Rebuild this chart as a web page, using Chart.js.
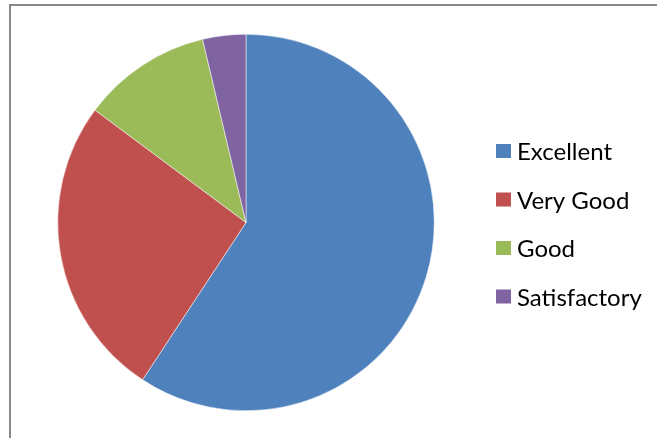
<html lang="en">
<head>
    <meta charset="UTF-8">
    <title>Ratings</title>
    <script src="https://cdn.jsdelivr.net/npm/chart.js"></script>
    <style>
        body { margin: 0; background: #fff; }
        #wrap { position: relative; width: 657px; height: 438px; }
        canvas { position: absolute; left: 0; top: 0; }
    </style>
</head>
<body>

    <div id="wrap">
        <canvas id="graficoPizza" width="657" height="438"></canvas>
    </div>

    <script>
        const categorias = ['Excellent', 'Very Good', 'Good', 'Satisfactory'];
        const respostas = [16, 7, 3, 1];
        const cores = ['#4F81BD', '#C0504D', '#9BBB59', '#8064A2'];

        // moldura cinza e legenda desenhadas a mao
        const molduraLegenda = {
            id: 'molduraLegenda',
            beforeDraw(chart) {
                const ctx = chart.ctx;
                ctx.save();
                ctx.strokeStyle = '#888888';
                ctx.lineWidth = 2;
                ctx.beginPath();
                ctx.moveTo(10, 440);
                ctx.lineTo(10, 5);
                ctx.lineTo(660, 5);
                ctx.stroke();
                ctx.restore();
            },
            afterDraw(chart) {
                const ctx = chart.ctx;
                const ds = chart.data.datasets[0];
                ctx.save();
                ctx.font = '24px Lato, "Open Sans", sans-serif';
                ctx.textBaseline = 'alphabetic';
                chart.data.labels.forEach((nome, i) => {
                    const y = 151 + i * 48.5;
                    ctx.fillStyle = ds.backgroundColor[i];
                    ctx.fillRect(496, y - 7, 15, 14);
                    ctx.fillStyle = '#000';
                    ctx.fillText(nome, 517, y + 9);
                });
                ctx.restore();
            }
        };

        const ctx = document.getElementById('graficoPizza').getContext('2d');
        const grafico = new Chart(ctx, {
            type: 'pie',
            data: {
                labels: categorias,
                datasets: [{
                    data: respostas,
                    backgroundColor: cores,
                    borderColor: '#ffffff',
                    borderWidth: 0.5,
                    hoverOffset: 0
                }]
            },
            options: {
                responsive: false,
                animation: false,
                layout: {
                    padding: { left: 57, top: 34, right: 222, bottom: 27 }
                },
                plugins: {
                    legend: { display: false },
                    tooltip: { enabled: false }
                }
            },
            plugins: [molduraLegenda]
        });
    </script>

</body>
</html>
